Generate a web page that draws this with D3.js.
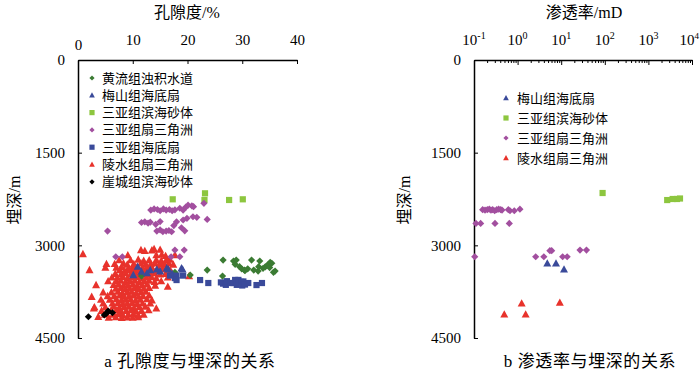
<!DOCTYPE html>
<html>
<head>
<meta charset="utf-8">
<script src="https://cdn.jsdelivr.net/npm/d3@7"></script>
<style>
  body { margin: 0; background: #fff; }
  svg { display: block; }
</style>
</head>
<body>
<svg class="chart" width="700" height="376"></svg>
<script>
const svg = d3.select(".chart");
const W = 700, H = 376;
const NUMFONT = "'Liberation Serif', 'Noto Sans CJK SC', serif";
const CJKFONT = "'Liberation Serif', 'Noto Sans CJK SC', sans-serif";

// ---- ticks / labels ----
const porTicks = [0, 10, 20, 30, 40];
const depthTicks = [0, 1500, 3000, 4500];
const permTicks = [0.1, 1, 10, 100, 1000, 10000];
const permExp = ["-1", "0", "1", "2", "3", "4"];

const namesA = ["黄流组浊积水道", "梅山组海底扇", "三亚组滨海砂体", "三亚组扇三角洲", "三亚组海底扇", "陵水组扇三角洲", "崖城组滨海砂体"];
const namesB = ["梅山组海底扇", "三亚组滨海砂体", "三亚组扇三角洲", "陵水组扇三角洲"];

// ---- porosity (%) vs depth (m) ----
const huangliuA = [[11.6,3497],[17.7,3437],[20.5,3481],[23.6,3400],[26.4,3497],[26.5,3238],[28.4,3254],[28.9,3238],
  [28.7,3308],[29.5,3346],[29.9,3380],[30.4,3400],[30.5,3410],[31.7,3238],[32.1,3400],[32.9,3416],[33.2,3254],[33.0,3346],
  [33.8,3372],[34.2,3350],[34.6,3319],[35.0,3360],[35.1,3275],[35.4,3290],[35.7,3437],[36.0,3416],[31.0,3380]];
const meishanA = [[10.1,3481],[10.9,3346],[11.6,3427],[12.6,3450],[13.2,3400],[14.4,3389],[15.0,3420],[16.2,3372],
  [16.5,3389],[18.9,3372],[19.1,3389],[17.2,3460]];
const sanyaBeachA = [[17.3,2255],[23.2,2158],[23.1,2266],[27.6,2266],[30.1,2255]];
const sanyaFanA = [[13.3,2430],[13.9,2410],[14.5,2420],[15.0,2440],[15.6,2410],[16.1,2430],[16.7,2420],[17.2,2440],[17.7,2425],
  [18.6,2400],[19.2,2430],[19.7,2380],[20.1,2350],[20.8,2360],[21.1,2375],[23.0,2320],
  [11.6,2630],[12.2,2620],[12.8,2640],[13.2,2625],[14.2,2660],[15.0,2615],
  [17.5,2680],[18.0,2620],[19.2,2590],[19.9,2563],[21.0,2537],[21.7,2547],[23.6,2580],
  [14.4,2770],[15.0,2750],[15.5,2780],[16.1,2770],[16.6,2760],[17.1,2780],[18.9,2715],[19.5,2765],
  [5.4,2770],[17.7,3076],[19.4,3076],[17.0,3185],[18.6,3185],[6.9,3185],[8.1,3185]];
const sanyaSubA = [[16.8,3490],[17.7,3530],[18.0,3490],[19.2,3490],[18.0,3562],[22.3,3562],[23.8,3610],[26.1,3600],
  [26.5,3620],[27.0,3640],[27.2,3580],[27.8,3610],[28.4,3610],[28.7,3560],[29.0,3640],[29.3,3560],[29.8,3590],
  [30.0,3650],[30.2,3585],[30.5,3635],[31.1,3610],[32.6,3643],[33.6,3610]];
const lingshuiA = [
  [0.9,3141],[11.5,3076],[12.2,3090],[13.5,3080],[13.9,3060],[15.0,3070],[17.7,3157],
  [9.1,3160],[14.3,3160],[15.3,3150],[16.0,3170],
  [7.5,3240],[9.6,3240],[11.0,3230],[12.0,3250],[13.0,3240],[14.3,3235],[15.2,3250],[16.1,3240],[16.8,3230],
  [5.2,3300],[6.7,3300],[8.3,3290],[9.0,3310],[10.2,3300],[11.5,3290],[12.4,3310],[13.3,3300],[14.1,3290],[15.0,3310],[15.8,3300],[16.6,3290],[17.4,3310],
  [5.0,3360],[7.0,3360],[8.0,3350],[9.2,3370],[10.0,3360],[10.8,3350],[11.7,3370],[12.6,3360],[13.4,3350],[14.6,3360],[15.5,3370],[16.3,3350],
  [2.1,3400],[7.6,3400],[8.5,3410],[9.4,3400],[10.3,3390],[11.1,3410],[12.0,3400],[12.9,3390],[13.8,3410],[14.7,3400],[15.6,3390],[16.9,3410],
  [6.8,3460],[7.9,3460],[8.7,3450],[9.6,3470],[10.5,3460],[11.3,3450],[12.2,3470],[13.1,3460],[14.0,3450],[15.0,3470],[16.0,3460],[20.3,3497],
  [6.2,3520],[7.2,3520],[8.2,3510],[9.0,3530],[9.9,3520],[10.8,3510],[11.6,3530],[12.5,3520],[13.4,3510],[14.3,3530],[16.4,3520],
  [5.5,3580],[7.0,3580],[7.8,3570],[8.7,3590],[9.5,3580],[10.4,3570],[11.2,3590],[12.1,3580],[13.0,3570],[14.0,3590],[15.2,3580],
  [3.3,3643],[6.5,3640],[7.4,3630],[8.3,3650],[9.1,3640],[10.0,3630],[10.8,3650],[11.7,3640],[12.6,3630],[14.1,3650],[16.4,3670],
  [6.9,3700],[7.8,3690],[8.6,3710],[9.4,3700],[10.3,3690],[11.1,3710],[12.0,3700],[13.0,3690],
  [4.6,3760],[6.1,3760],[7.3,3750],[8.1,3770],[9.0,3760],[9.8,3750],[10.6,3770],[11.5,3760],[12.4,3750],
  [2.5,3832],[5.4,3820],[6.6,3820],[7.6,3810],[8.4,3830],[9.3,3820],[10.1,3810],[11.0,3830],[11.9,3820],[13.0,3810],
  [4.2,3880],[5.8,3880],[7.0,3870],[7.9,3890],[8.7,3880],[9.6,3870],[10.5,3890],[11.4,3880],[12.6,3870],[13.5,3890],
  [4.6,3940],[6.3,3940],[7.3,3930],[8.2,3950],[9.0,3940],[9.9,3930],[10.8,3950],[11.8,3940],[13.2,3939],
  [3.0,4000],[5.0,4000],[6.5,3990],[7.5,4010],[8.4,4000],[9.3,3990],[10.2,4010],[11.2,4000],[12.3,3990],[14.3,4020],
  [2.9,4020],[4.3,4060],[6.0,4060],[7.0,4050],[7.9,4070],[8.8,4060],[9.7,4050],[10.6,4070],[11.6,4060],[12.9,4050],
  [4.9,4120],[6.4,4120],[7.4,4110],[8.2,4130],[9.2,4120],[10.1,4110],[11.0,4130],[12.0,4120],
  [3.7,4156],[5.6,4170],[6.9,4160],[8.0,4175],[9.0,4165],[10.0,4170],[11.0,4160]];
const yachengA = [[1.9,4156],[4.8,4128],[5.2,4101],[5.5,4064],[6.3,4091]];

// ---- permeability (mD) vs depth (m) ----
const meishanB = [[4.8,3292],[7.6,3292],[11.6,3389]];
const sanyaBeachB = [[89,2153],[2700,2267],[3600,2250],[4500,2250],[5300,2242]];
const sanyaFanB = [[0.158,2423],[0.179,2430],[0.202,2423],[0.224,2415],[0.245,2430],[0.268,2423],[0.298,2440],[0.332,2423],
  [0.368,2415],[0.409,2423],[0.439,2430],[0.613,2423],[0.669,2440],[0.84,2440],[1.13,2415],
  [0.111,2645],[0.142,2645],[0.303,2645],[0.645,2645],
  [6.05,3087],[5.5,3087],[27,3076],[38,3076],
  [0.104,3185],[2.6,3185],[4.0,3185],[10.8,3185],[13.7,3185]];
const lingshuiB = [[1.24,3939],[9.3,3929],[0.495,4117],[1.53,4117]];

// ---- styles ----
const COLORS = {
  huangliu: "#3b7b33", meishan: "#3a4a9a", sanyaBeach: "#8dc63f",
  sanyaFan: "#a24f9f", sanyaSub: "#3a4a9a", lingshui: "#e8322b", yacheng: "#000000"
};

function marker(type, r) {
  if (type === "diamond") return `M0,${-r}L${r},0L0,${r}L${-r},0Z`;
  if (type === "triangle") return `M0,${-r}L${r * 0.95},${r * 0.75}L${-r * 0.95},${r * 0.75}Z`;
  return `M${-r},${-r}h${2 * r}v${2 * r}h${-2 * r}Z`;
}
const SIZES = { diamond: 3.6, triangle: 4.2, square: 3.1 };

const yScale = d3.scaleLinear().domain([0, 4500]).range([60, 338]);
const xA = d3.scaleLinear().domain([0, 40]).range([78, 297]);
const xB = d3.scaleLog().domain([0.1, 10000]).range([474, 692]);

function drawSeries(xs, data, type, color) {
  svg.append("g")
    .selectAll("path")
    .data(data)
    .enter()
    .append("path")
    .attr("transform", d => `translate(${xs(d[0])},${yScale(d[1])})`)
    .attr("d", marker(type, SIZES[type]))
    .attr("fill", color);
}

function yAxis(x0) {
  const g = svg.append("g")
    .attr("transform", `translate(${x0},0)`)
    .call(d3.axisLeft(yScale).tickValues(depthTicks).tickSizeInner(-4).tickSizeOuter(0).tickPadding(13)
      .tickFormat(d3.format("d")));
  g.select(".domain").attr("stroke", "#000").attr("stroke-width", 1.5);
  g.selectAll("text").style("font-family", NUMFONT).style("font-size", "15px").attr("fill", "#000");
}

// ---------- chart a ----------
const gxA = svg.append("g")
  .attr("transform", "translate(0,60)")
  .call(d3.axisTop(xA).tickValues(porTicks).tickSizeInner(-4).tickSizeOuter(0).tickPadding(14));
gxA.select(".domain").attr("stroke", "#000").attr("stroke-width", 1.5);
gxA.selectAll("text").style("font-family", NUMFONT).style("font-size", "15px").attr("fill", "#000")
  .attr("y", d => d === 0 ? -10 : -15);
yAxis(78);

drawSeries(xA, lingshuiA, "triangle", COLORS.lingshui);
drawSeries(xA, huangliuA, "diamond", COLORS.huangliu);
drawSeries(xA, meishanA, "triangle", COLORS.meishan);
drawSeries(xA, sanyaBeachA, "square", COLORS.sanyaBeach);
drawSeries(xA, sanyaFanA, "diamond", COLORS.sanyaFan);
drawSeries(xA, sanyaSubA, "square", COLORS.sanyaSub);
drawSeries(xA, yachengA, "diamond", COLORS.yacheng);

const legA = [
  ["diamond", COLORS.huangliu], ["triangle", COLORS.meishan], ["square", COLORS.sanyaBeach],
  ["diamond", COLORS.sanyaFan], ["square", COLORS.sanyaSub], ["triangle", COLORS.lingshui], ["diamond", COLORS.yacheng]
];
namesA.forEach((n, i) => {
  const y = 78 + i * 17.3;
  svg.append("path").attr("transform", `translate(92,${y})`)
    .attr("d", marker(legA[i][0], legA[i][0] === "triangle" ? 3 : 2.6)).attr("fill", legA[i][1]);
  svg.append("text").attr("x", 102).attr("y", y + 4.5).text(n)
    .style("font-family", CJKFONT).style("font-size", "13px");
});

svg.append("text").attr("x", 187).attr("y", 18).attr("text-anchor", "middle")
  .style("font-family", CJKFONT).style("font-size", "16px").text("孔隙度/%");
svg.append("text").attr("transform", "translate(20,200) rotate(-90)").attr("text-anchor", "middle")
  .style("font-family", CJKFONT).style("font-size", "16px").text("埋深/m");
svg.append("text").attr("x", 190).attr("y", 367).attr("text-anchor", "middle")
  .style("font-family", CJKFONT).style("font-size", "17px").style("letter-spacing", "0.6px")
  .text("a  孔隙度与埋深的关系");

// ---------- chart b ----------
const minor = [];
for (let e = -1; e < 4; e++) for (let m = 2; m <= 9; m++) minor.push(m * Math.pow(10, e));
const gm = svg.append("g").attr("transform", "translate(0,60)")
  .call(d3.axisTop(xB).tickValues(minor).tickSizeInner(-3).tickSizeOuter(0).tickFormat(""));
gm.select(".domain").remove();
const gxB = svg.append("g").attr("transform", "translate(0,60)")
  .call(d3.axisTop(xB).tickValues(permTicks).tickSizeInner(-5).tickSizeOuter(0).tickFormat(""));
gxB.select(".domain").attr("stroke", "#000").attr("stroke-width", 1.5);
svg.selectAll(".tick line").attr("stroke", "#000");

permTicks.forEach((t, i) => {
  const last = i === permTicks.length - 1;
  const tx = svg.append("text").attr("x", last ? 699 : xB(t)).attr("y", 45)
    .attr("text-anchor", last ? "end" : "middle")
    .style("font-family", NUMFONT).style("font-size", "15px");
  tx.append("tspan").text("10");
  tx.append("tspan").attr("dy", -6).style("font-size", last ? "9px" : "10px").text(permExp[i]);
});
yAxis(474);

drawSeries(xB, lingshuiB, "triangle", COLORS.lingshui);
drawSeries(xB, meishanB, "triangle", COLORS.meishan);
drawSeries(xB, sanyaBeachB, "square", COLORS.sanyaBeach);
drawSeries(xB, sanyaFanB, "diamond", COLORS.sanyaFan);

const legB = [["triangle", COLORS.meishan], ["square", COLORS.sanyaBeach], ["diamond", COLORS.sanyaFan], ["triangle", COLORS.lingshui]];
namesB.forEach((n, i) => {
  const y = 98 + i * 20;
  svg.append("path").attr("transform", `translate(506,${y})`)
    .attr("d", marker(legB[i][0], legB[i][0] === "triangle" ? 3 : 2.6)).attr("fill", legB[i][1]);
  svg.append("text").attr("x", 517).attr("y", y + 4.5).text(n)
    .style("font-family", CJKFONT).style("font-size", "13px");
});

svg.append("text").attr("x", 584).attr("y", 18).attr("text-anchor", "middle")
  .style("font-family", CJKFONT).style("font-size", "16px").text("渗透率/mD");
svg.append("text").attr("transform", "translate(410,200) rotate(-90)").attr("text-anchor", "middle")
  .style("font-family", CJKFONT).style("font-size", "16px").text("埋深/m");
svg.append("text").attr("x", 590).attr("y", 367).attr("text-anchor", "middle")
  .style("font-family", CJKFONT).style("font-size", "17px").style("letter-spacing", "0.6px")
  .text("b  渗透率与埋深的关系");
</script>
</body>
</html>
